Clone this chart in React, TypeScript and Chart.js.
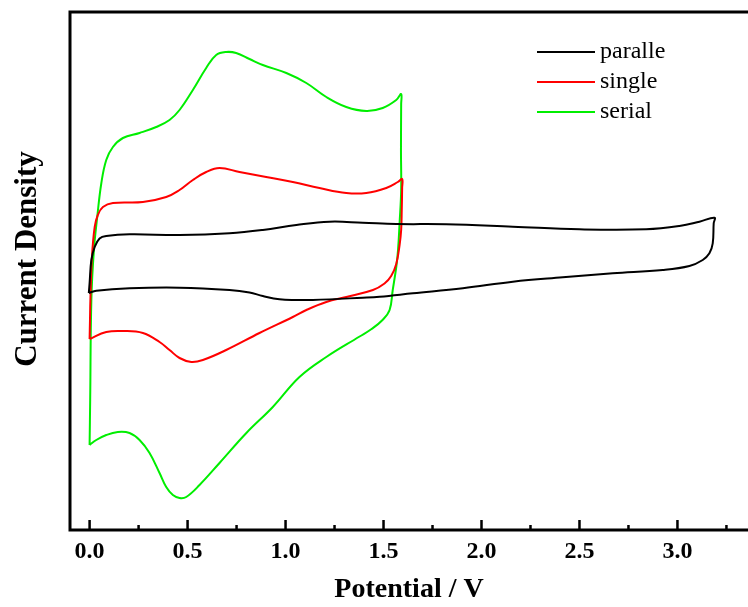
import { useEffect, useRef } from "react";
import { Chart, registerables } from "chart.js";

Chart.register(...registerables);

const seriesNames = ["paralle", "single", "serial"];
const seriesColors = ["#000000", "#ff0000", "#00ee00"];
const xTitle = "Potential / V";
const yTitle = "Current Density";

const xMajorTicks = [0, 0.5, 1.0, 1.5, 2.0, 2.5, 3.0];
const xMinorTicks = [0.25, 0.75, 1.25, 1.75, 2.25, 2.75, 3.25];

const paralleV = [
  -0.004, 0, 0.009, 0.026, 0.051, 0.085, 0.204, 0.459, 0.714, 0.884, 1.055, 1.224, 1.394, 1.565, 1.82,
  2.16, 2.5, 2.84, 3.01, 3.112, 3.189, 3.185, 3.18, 3.163, 3.129, 3.061, 2.925, 2.67, 2.415, 2.16,
  1.905, 1.65, 1.48, 1.394, 1.139, 1.055, 0.969, 0.884, 0.816, 0.714, 0.459, 0.204, 0.034, -0.004,
];
const paralleJ = [
  -0.03, 0.07, 0.3, 0.43, 0.515, 0.54, 0.557, 0.55, 0.567, 0.6, 0.65, 0.683, 0.673, 0.66, 0.657,
  0.633, 0.607, 0.607, 0.64, 0.683, 0.723, 0.667, 0.467, 0.367, 0.3, 0.24, 0.2, 0.167, 0.127, 0.083,
  0.017, -0.033, -0.067, -0.077, -0.1, -0.1, -0.093, -0.06, -0.025, 0.0, 0.023, 0.017, -0.007, -0.03,
];

const singleV = [
  0, 0.002, 0.004, 0.012, 0.026, 0.042, 0.068, 0.119, 0.272, 0.391, 0.459, 0.527, 0.595, 0.663, 0.765,
  0.901, 1.037, 1.173, 1.31, 1.412, 1.514, 1.573, 1.595, 1.595, 1.593, 1.59, 1.582, 1.565, 1.539, 1.505,
  1.446, 1.31, 1.208, 1.106, 1.037, 0.867, 0.697, 0.578, 0.519, 0.459, 0.408, 0.357, 0.272, 0.17, 0.085, 0,
];
const singleJ = [
  -0.49, -0.3, -0.1, 0.33, 0.63, 0.75, 0.83, 0.87, 0.88, 0.93, 1.0, 1.1, 1.18, 1.22, 1.18,
  1.13, 1.08, 1.02, 0.97, 0.97, 1.02, 1.08, 1.11, 1.02, 0.8, 0.6, 0.45, 0.26, 0.14, 0.065,
  0.0, -0.07, -0.12, -0.2, -0.27, -0.43, -0.6, -0.7, -0.72, -0.68, -0.6, -0.52, -0.43, -0.41, -0.42, -0.49,
];

const serialV = [
  0, 0.003, 0.009, 0.022, 0.039, 0.06, 0.085, 0.119, 0.17, 0.255, 0.34, 0.408, 0.459, 0.527, 0.595,
  0.646, 0.697, 0.748, 0.816, 0.884, 1.004, 1.106, 1.208, 1.31, 1.412, 1.496, 1.565, 1.59, 1.59, 1.589,
  1.59, 1.582, 1.574, 1.565, 1.547, 1.531, 1.495, 1.439, 1.378, 1.208, 1.071, 0.935, 0.8, 0.663, 0.561,
  0.493, 0.459, 0.425, 0.391, 0.357, 0.306, 0.255, 0.204, 0.144, 0.085, 0.034, 0,
];
const serialJ = [
  -1.55, -1.1, -0.1, 0.4, 0.73, 1.07, 1.3, 1.43, 1.52, 1.57, 1.63, 1.7, 1.8, 2.0, 2.22,
  2.35, 2.38, 2.37, 2.31, 2.25, 2.17, 2.07, 1.93, 1.83, 1.79, 1.82, 1.9, 1.96, 1.86, 1.4,
  1.0, 0.67, 0.4, 0.23, 0.0, -0.2, -0.3, -0.39, -0.465, -0.67, -0.87, -1.17, -1.43, -1.73, -1.95,
  -2.07, -2.08, -2.05, -1.97, -1.83, -1.63, -1.5, -1.43, -1.42, -1.45, -1.5, -1.55,
];

const seriesV = [paralleV, singleV, serialV];
const seriesJ = [paralleJ, singleJ, serialJ];

const SERIF = '"Liberation Serif", "Times New Roman", serif';

const framePlugin = {
  id: "frame",
  afterDatasetsDraw(chart: any) {
    const { ctx, chartArea } = chart;
    const { left, top, right, bottom } = chartArea;
    const xs = chart.scales.x;
    ctx.save();
    ctx.strokeStyle = "#000";
    ctx.lineWidth = 3;
    ctx.beginPath();
    ctx.moveTo(right + 10, top);
    ctx.lineTo(left, top);
    ctx.lineTo(left, bottom);
    ctx.lineTo(right + 10, bottom);
    ctx.stroke();
    ctx.lineWidth = 2.5;
    ctx.beginPath();
    xMajorTicks.forEach((v) => {
      const px = xs.getPixelForValue(v);
      ctx.moveTo(px, bottom);
      ctx.lineTo(px, bottom - 10);
    });
    xMinorTicks.forEach((v) => {
      const px = xs.getPixelForValue(v);
      ctx.moveTo(px, bottom);
      ctx.lineTo(px, bottom - 5);
    });
    ctx.stroke();

    // y axis title
    ctx.save();
    ctx.translate(left - 42, (top + bottom) / 2 - 12);
    ctx.rotate(-Math.PI / 2);
    ctx.font = `bold 31px ${SERIF}`;
    ctx.fillStyle = "#000";
    ctx.textAlign = "center";
    ctx.textBaseline = "middle";
    ctx.fillText(yTitle, 0, 0);
    ctx.restore();

    // legend
    const lx = left + 467;
    const ly = top + 40;
    ctx.font = `24px ${SERIF}`;
    ctx.textBaseline = "middle";
    ctx.textAlign = "left";
    chart.data.datasets.forEach((ds: any, i: number) => {
      const y = ly + i * 30;
      ctx.strokeStyle = ds.borderColor;
      ctx.lineWidth = 2;
      ctx.beginPath();
      ctx.moveTo(lx, y);
      ctx.lineTo(lx + 58, y);
      ctx.stroke();
      ctx.fillStyle = "#000";
      ctx.fillText(ds.label, lx + 63, y);
    });
    ctx.restore();
  },
};

export default function App() {
  const ref = useRef<HTMLCanvasElement | null>(null);
  useEffect(() => {
    if (!ref.current) return;
    const datasets = seriesNames.map((name, i) => ({
      label: name,
      data: seriesV[i].map((v, k) => ({ x: v, y: seriesJ[i][k] })),
      borderColor: seriesColors[i],
      backgroundColor: seriesColors[i],
      borderWidth: 2,
      pointRadius: 0,
      tension: 0.4,
      cubicInterpolationMode: "default",
      fill: false,
    }));
    const chart = new Chart(ref.current, {
      type: "line",
      data: { datasets },
      plugins: [framePlugin],
      options: {
        animation: false,
        responsive: false,
        devicePixelRatio: 1,
        parsing: true,
        layout: { padding: { left: 0, top: 12, right: 0, bottom: 0 } },
        plugins: { legend: { display: false }, tooltip: { enabled: false } },
        scales: {
          x: {
            type: "linear",
            min: -0.1,
            max: 3.36,
            grid: { display: false, drawTicks: false },
            border: { display: false },
            afterBuildTicks: (scale: any) => {
              scale.ticks = xMajorTicks.map((v) => ({ value: v }));
            },
            afterFit: (scale: any) => {
              scale.height = 77;
            },
            ticks: {
              padding: 7,
              color: "#000",
              maxRotation: 0,
              font: { family: SERIF, size: 24, weight: "bold", lineHeight: 1.2 },
              callback: (v: any) => Number(v).toFixed(1),
            },
            title: {
              display: true,
              text: xTitle,
              color: "#000",
              padding: { top: 0, bottom: 0 },
              font: { family: SERIF, size: 28, weight: "bold", lineHeight: 1.2 },
            },
          },
          y: {
            type: "linear",
            min: -2.4,
            max: 2.78,
            grid: { display: false, drawTicks: false },
            border: { display: false },
            ticks: { display: false },
            afterFit: (scale: any) => {
              scale.width = 70;
            },
            title: { display: false },
          },
        },
      },
    } as any);
    return () => chart.destroy();
  }, []);
  return (
    <div style={{ position: "fixed", left: 0, top: 0, width: 748, height: 607, background: "#fff" }}>
      <canvas ref={ref} width={748} height={607} style={{ display: "block", width: 748, height: 607 }} />
    </div>
  );
}
